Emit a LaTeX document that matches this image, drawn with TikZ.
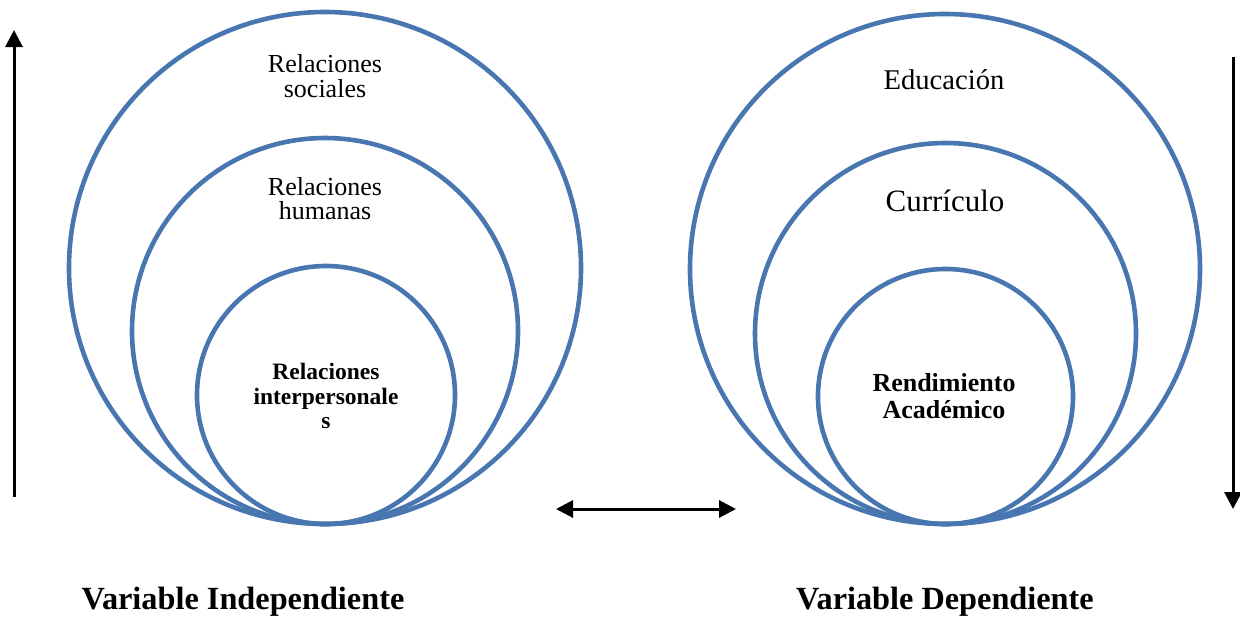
\documentclass[tikz,border=0pt]{standalone}
\usepackage{fontspec}
\setmainfont{Liberation Serif}
\usetikzlibrary{arrows.meta}
\definecolor{ringblue}{RGB}{72,118,176}
\tikzset{
  ring/.style={circle, draw=ringblue, line width=4.6pt, inner sep=0pt},
  lbl/.style={align=center, inner sep=0pt},
  arr/.style={line width=3pt, -{Triangle[length=17pt,width=17pt]}},
  darr/.style={line width=3pt, {Triangle[length=17pt,width=17pt]}-{Triangle[length=17pt,width=17pt]}},
}
\begin{document}
\begin{tikzpicture}[x=1pt,y=-1pt]
\useasboundingbox (0,0) rectangle (1240,619);
% left rings
\node[ring, minimum size=512pt] (L1) at (325,268) {};
\node[ring, minimum size=386pt] (L2) at (325,331) {};
\node[ring, minimum size=258pt] (L3) at (326,395) {};
% right rings
\node[ring, minimum size=510pt] (R1) at (945,269) {};
\node[ring, minimum size=381pt] (R2) at (945.5,333.5) {};
\node[ring, minimum size=255pt] (R3) at (945.5,396.5) {};
% labels left
\node[lbl, font=\fontsize{26}{25}\selectfont] (t1) at (325,76) {Relaciones\\sociales};
\node[lbl, font=\fontsize{26}{24}\selectfont] (t2) at (325,199) {Relaciones\\humanas};
\node[lbl, font=\fontsize{23.5}{24.5}\selectfont\bfseries] (t3) at (326,396) {Relaciones\\interpersonale\\s};
% labels right
\node[inner sep=0pt, anchor=base, font=\fontsize{28.6}{30}\selectfont] (t4) at (944,89) {Educación};
\node[inner sep=0pt, anchor=base, font=\fontsize{31}{32}\selectfont] (t5) at (945,211) {Currículo};
\node[lbl, font=\fontsize{26}{26.5}\selectfont\bfseries] (t6) at (944,396) {Rendimiento\\Académico};
% bottom labels
\node[inner sep=0pt, anchor=base, font=\fontsize{32.3}{33}\selectfont\bfseries] (v1) at (243,609) {Variable Independiente};
\node[inner sep=0pt, anchor=base, font=\fontsize{32.3}{33}\selectfont\bfseries] (v2) at (945,609) {Variable Dependiente};
% arrows
\coordinate (a1s) at (14,497);
\coordinate (a1e) at (14,30);
\coordinate (a2s) at (1233,57);
\coordinate (a2e) at (1233,509);
\coordinate (a3s) at (556,509);
\coordinate (a3e) at (736,509);
\draw[arr] (a1s) -- (a1e);
\draw[arr] (a2s) -- (a2e);
\draw[darr] (a3s) -- (a3e);
\end{tikzpicture}
\end{document}
